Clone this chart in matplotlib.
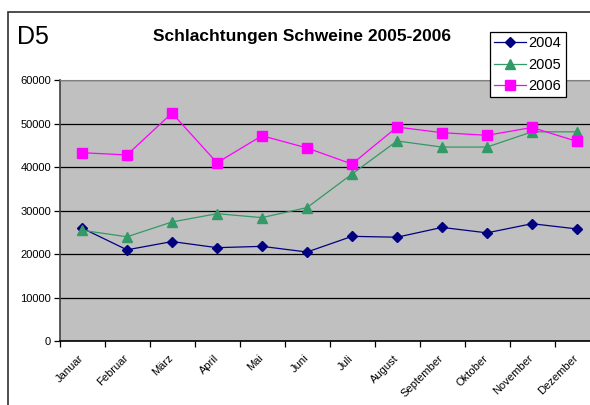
import matplotlib.pyplot as plt
import matplotlib.transforms as mtrans
from matplotlib.patches import Rectangle

plt.rcParams['font.family'] = ['Liberation Sans', 'DejaVu Sans']

# Monthly values
monate = ["Januar", "Februar", "März", "April", "Mai", "Juni", "Juli",
          "August", "September", "Oktober", "November", "Dezember"]
werte_2004 = [26000, 21000, 22900, 21500, 21800, 20500, 24100, 23900, 26150, 24900, 27000, 25800]
werte_2005 = [25500, 24000, 27400, 29300, 28400, 30700, 38400, 46000, 44600, 44600, 48100, 48100]
werte_2006 = [43300, 42800, 52400, 41000, 47200, 44400, 40700, 49200, 47900, 47300, 49100, 45900]
y_ticks = [0, 10000, 20000, 30000, 40000, 50000, 60000]

W, H = 590, 405
fig = plt.figure(figsize=(W / 100, H / 100), dpi=100)

# plot area in pixel coordinates
left, right, top, bottom = 59.5, 599.5, 80, 341.3
ax = fig.add_axes([left / W, (H - bottom) / H, (right - left) / W, (bottom - top) / H])
ax.set_facecolor("#C0C0C0")

x = list(range(1, len(monate) + 1))
ax.plot(x, werte_2004, color="#000080", lw=0.9, marker="D", ms=5, label="2004", zorder=3)
ax.plot(x, werte_2005, color="#339966", lw=0.9, marker="^", ms=7, label="2005", zorder=3)
ax.plot(x, werte_2006, color="#FF00FF", lw=0.9, marker="s", ms=7.5, label="2006", zorder=3)

ax.set_xlim(0.5, len(monate) + 0.5)
ax.set_ylim(0, 60000)
ax.set_yticks(y_ticks)
ax.set_yticklabels([str(v) for v in y_ticks], fontsize=8)
ax.yaxis.grid(True, color="black", lw=0.9)
ax.set_axisbelow(True)

ax.set_xticks(x)
ax.set_xticklabels(monate, fontsize=8, rotation=45, ha="right", va="center", rotation_mode="anchor")
shift = mtrans.ScaledTranslation(-4 / 100, 0, fig.dpi_scale_trans)
for lbl in ax.get_xticklabels():
    lbl.set_transform(lbl.get_transform() + shift)
ax.set_xticks([i + 0.5 for i in range(0, len(monate) + 1)], minor=True)
ax.tick_params(axis="x", which="major", length=0, pad=11)
ax.tick_params(axis="x", which="minor", length=4, width=0.9, color="black")
ax.tick_params(axis="y", length=4, width=0.9, color="black", pad=2)

ax.spines["left"].set_color("#404040")
ax.spines["left"].set_linewidth(1.2)
ax.spines["bottom"].set_color("black")
ax.spines["bottom"].set_linewidth(1.2)
ax.spines["top"].set_color("#808080")
ax.spines["right"].set_visible(False)

leg = ax.legend(loc="upper left", bbox_to_anchor=((490 - left) / (right - left), (bottom - 32) / (bottom - top)),
                fontsize=10.5, frameon=True, fancybox=False, framealpha=1, edgecolor="black",
                borderpad=0.3, labelspacing=0.5, handlelength=2.2, handletextpad=0.15,
                borderaxespad=0)
leg.get_frame().set_linewidth(0.9)

fig.text(302 / W, 1 - 36 / H, "Schlachtungen Schweine 2005-2006", fontsize=12.5,
         fontweight="bold", ha="center", va="center")
fig.text(17 / W, 1 - 37 / H, "D5", fontsize=18, ha="left", va="center")

# outer chart border (only left and top visible in the crop)
fig.patches.append(Rectangle((8 / W, -0.1), 1.2, 1 - 12 / H + 0.1, transform=fig.transFigure,
                             fill=False, edgecolor="#303030", lw=1.2))

fig.savefig("out.png", dpi=100)
